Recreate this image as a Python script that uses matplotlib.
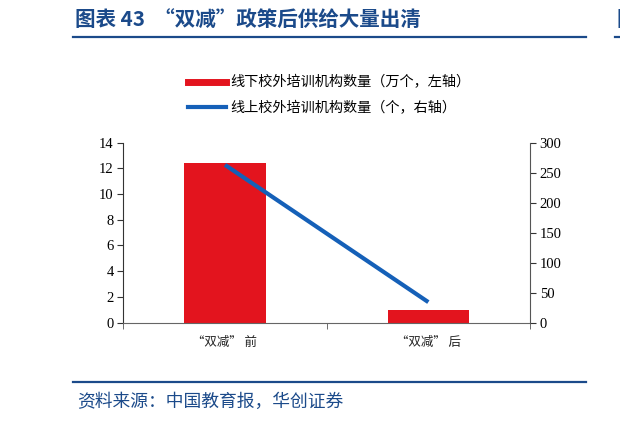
import numpy as np
import matplotlib
matplotlib.use('Agg')
import matplotlib.pyplot as plt
from matplotlib.lines import Line2D

plt.rcParams['font.family'] = ['Noto Sans CJK SC', 'DejaVu Sans']

categories = ['“双减” 前', '“双减” 后']
offline = [12.4, 1.0]      # 万个, left axis
online = [263, 34]         # 个, right axis
label_off = '线下校外培训机构数量（万个，左轴）'
label_on = '线上校外培训机构数量（个，右轴）'
title = '图表 43  “双减”政策后供给大量出清'
source = '资料来源：中国教育报，华创证券'

navy = '#1B4A8A'
red = '#E3141E'
blue = '#1560B8'

W, H = 620, 423
fig = plt.figure(figsize=(W / 100, H / 100), dpi=100)
ax = fig.add_axes([123.3 / W, 1 - 322.5 / H, (530 - 123.3) / W, (322.5 - 142.7) / H])
ax2 = ax.twinx()

x = np.arange(len(categories))
ax.bar(x, offline, width=0.4, color=red, zorder=2)
ax2.plot(x, online, color=blue, lw=3, solid_capstyle='butt', zorder=3)

ax.set_xlim(-0.5, 1.5)
ax.set_ylim(0, 14)
ax.set_yticks(np.arange(0, 15, 2))
ax2.set_ylim(0, 300)
ax2.set_yticks(np.arange(0, 301, 50))

ax.set_xticks(x)
ax.set_xticklabels(categories, fontsize=9, color='#222222')
ax.set_xticks([-0.5, 0.5, 1.5], minor=True)
ax.tick_params(axis='x', which='major', length=0, pad=10)
ax.tick_params(axis='x', which='minor', length=4, direction='out', color='#555555')

serif = ['Liberation Serif', 'DejaVu Serif']
for a in (ax, ax2):
    a.tick_params(axis='y', length=4, direction='out', labelsize=10.5, color='#333333', pad=3)
    for lab in a.get_yticklabels():
        lab.set_family(serif)
    a.spines['top'].set_visible(False)
    a.patch.set_visible(False)
ax.spines['right'].set_visible(False)
ax2.spines['left'].set_visible(False)
ax.spines['left'].set_color('#333333')
ax2.spines['right'].set_color('#555555')
ax.spines['bottom'].set_color('#666666')
ax2.spines['bottom'].set_visible(False)

handles = [Line2D([], [], color=red, lw=5), Line2D([], [], color=blue, lw=3)]
fig.legend(handles, [label_off, label_on], loc='upper left',
           bbox_to_anchor=(188 / W, 1 - 75.5 / H), frameon=False, fontsize=10.2,
           handlelength=2.7, handletextpad=0.3, labelspacing=0.8, borderpad=0,
           borderaxespad=0)

# header and footer
fig.text(75 / W, 1 - 19 / H, title, fontsize=14.8, fontweight='bold', color=navy, va='center')
fig.add_artist(Line2D([73 / W, 586 / W], [1 - 37 / H] * 2, color=navy, lw=1.6))
fig.text(616 / W, 1 - 19 / H, '图', fontsize=14.8, fontweight='bold', color=navy, va='center')
fig.add_artist(Line2D([615 / W, 1.0], [1 - 37 / H] * 2, color=navy, lw=1.6))
fig.add_artist(Line2D([73 / W, 586 / W], [1 - 382.3 / H] * 2, color=navy, lw=1.6))
fig.text(77 / W, 1 - 402 / H, source, fontsize=12.8, style='italic', color=navy, va='center')

fig.savefig('out.png', dpi=100)
